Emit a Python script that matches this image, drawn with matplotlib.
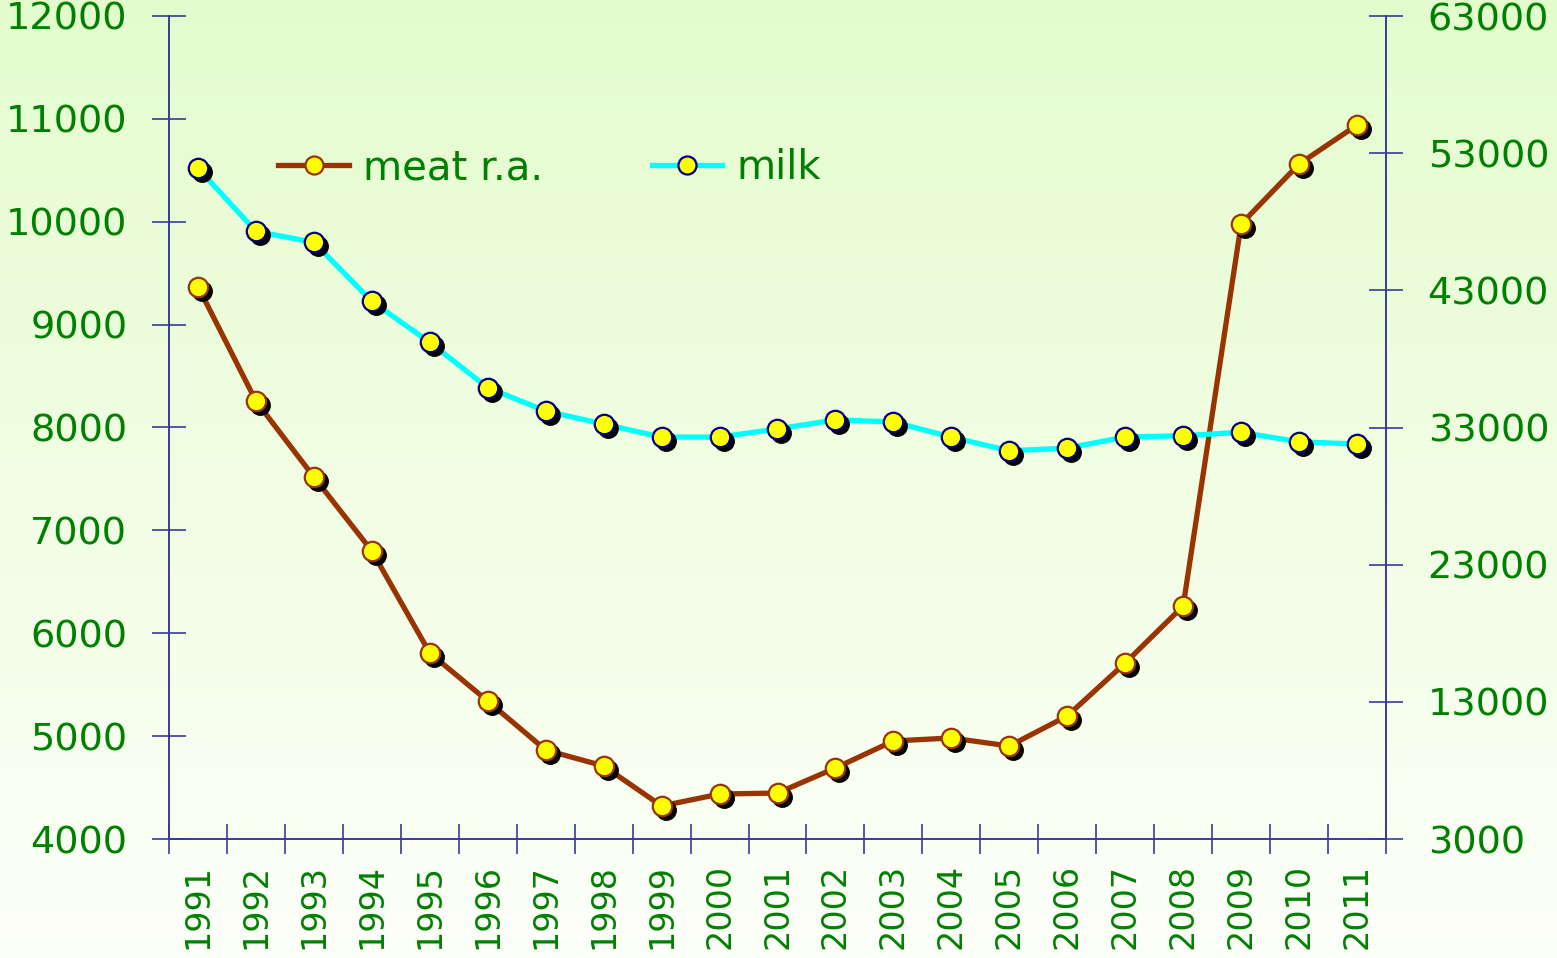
import numpy as np
import matplotlib
matplotlib.use('Agg')
import matplotlib.pyplot as plt
from matplotlib import transforms
from matplotlib.lines import Line2D

plt.rcParams['font.family'] = ['DejaVu Sans']

# data
years = ['1991', '1992', '1993', '1994', '1995', '1996', '1997', '1998', '1999', '2000',
         '2001', '2002', '2003', '2004', '2005', '2006', '2007', '2008', '2009', '2010', '2011']
meat = [9370, 8257, 7519, 6800, 5808, 5341, 4865, 4710, 4321, 4437,
        4447, 4690, 4953, 4982, 4904, 5196, 5711, 6265, 9978, 10561, 10940]
milk = [51900, 47300, 46500, 42200, 39200, 35900, 34200, 33250, 32300, 32300,
        32900, 33550, 33400, 32300, 31300, 31500, 32300, 32400, 32650, 31950, 31800]

green = '#008000'
axis_col = '#3a3a9a'
meat_col = '#993300'
milk_col = '#00ffff'

fig = plt.figure(figsize=(15.57, 9.58), dpi=100)

# background gradient
bg = fig.add_axes([0, 0, 1, 1], zorder=-10)
top = np.array([228, 252, 205]) / 255
bot = np.array([253, 255, 249]) / 255
t = np.linspace(0, 1, 256)[:, None]
grad = (top * (1 - t) + bot * t)[:, None, :]
bg.imshow(grad, aspect='auto', extent=[0, 1, 0, 1])
bg.axis('off')

ax = fig.add_axes([169 / 1557, 1 - 839 / 958, (1386 - 169) / 1557, (839 - 16) / 958])
ax.patch.set_alpha(0)
ax2 = ax.twinx()

x = np.arange(len(years))

def shadow_plot(a, vals, edge, lw_color):
    sh = transforms.offset_copy(a.transData, fig=fig, x=4, y=-4, units='dots')
    a.plot(x, vals, color=lw_color, lw=3.8, zorder=2, solid_capstyle='round')
    a.plot(x, vals, ls='none', marker='o', ms=14, mfc='black', mec='black',
           transform=sh, zorder=3)
    a.plot(x, vals, ls='none', marker='o', ms=14, mfc='#ffff00', mec=edge,
           mew=1.6, zorder=4)

shadow_plot(ax, meat, meat_col, meat_col)
shadow_plot(ax2, milk, '#000080', milk_col)

ax.set_xlim(-0.5, len(years) - 0.5)
ax.set_ylim(4000, 12000)
ax.set_yticks(np.arange(4000, 12001, 1000))
ax2.set_ylim(3000, 63000)
ax2.set_yticks(np.arange(3000, 63001, 10000))

ax.set_xticks(x)
ax.set_xticklabels(years, rotation=90)
ax.set_xticks(np.arange(-0.5, len(years)), minor=True)
ax.tick_params(axis='x', which='major', length=0, pad=18, labelsize=24, labelcolor=green)
ax.tick_params(axis='x', which='minor', direction='inout', length=21, width=1.2, color=axis_col)
ax.tick_params(axis='y', direction='inout', length=24, width=1.2, color=axis_col,
               pad=18, labelsize=27.5, labelcolor=green)
ax2.tick_params(axis='y', direction='inout', length=24, width=1.2, color=axis_col,
                pad=18, labelsize=27.5, labelcolor=green)

for a in (ax, ax2):
    a.spines['top'].set_visible(False)
    for s in ('left', 'right', 'bottom'):
        a.spines[s].set_color(axis_col)
        a.spines[s].set_linewidth(1.2)

# legend
h1 = Line2D([], [], color=meat_col, lw=3.8, marker='o', ms=13, mfc='#ffff00', mec=meat_col, mew=1.6)
h2 = Line2D([], [], color=milk_col, lw=3.8, marker='o', ms=13, mfc='#ffff00', mec='#000080', mew=1.6)
leg = ax.legend([h1, h2], ['meat r.a.', 'milk'], loc='center left', ncol=2, frameon=False,
                bbox_to_anchor=(0.06, 0.815), fontsize=29, handlelength=1.75,
                columnspacing=2.7, handletextpad=0.35)
for txt in leg.get_texts():
    txt.set_color(green)

fig.savefig('out.png', dpi=100)
